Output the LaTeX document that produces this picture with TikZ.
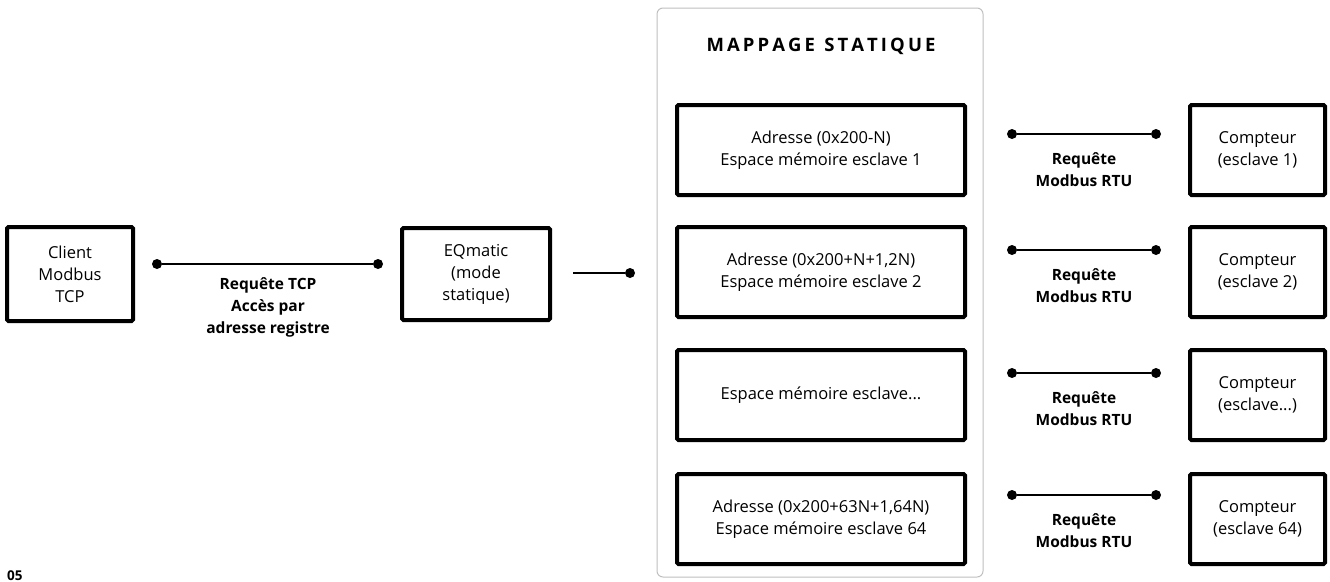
\documentclass[tikz,border=0pt]{standalone}
\usepackage{fontspec}
\setmainfont{Open Sans}
\begin{document}
\begin{tikzpicture}[x=1pt,y=-1pt,
  box/.style={draw=black,line width=4pt,fill=white,rounded corners=1.5pt,align=center,inner sep=0pt,
    font=\fontsize{16.5}{22}\selectfont},
  lbl/.style={align=center,font=\fontsize{15.5}{22}\selectfont\bfseries},
  conn/.style={line width=1.3pt},
  dot/.style={circle,fill=black,inner sep=0pt,minimum size=10pt}]
\useasboundingbox (0,0) rectangle (1330,581);
\draw[draw=black!25,line width=1pt,rounded corners=6pt] (657,8) rectangle (983,577);
\node[font=\fontsize{18.5}{20}\selectfont\bfseries] (title) at (821,46) {M\,A\,P\,P\,A\,G\,E\,\,\,S\,T\,A\,T\,I\,Q\,U\,E};
% left part
\node[box,minimum width=126pt,minimum height=94pt] (client) at (70,274) {Client\\Modbus\\TCP};
\node[box,minimum width=148pt,minimum height=92pt] (eq) at (476,274) {EQmatic\\(mode\\statique)};
\node[dot] (d1) at (157,264) {};
\node[dot] (d2) at (378,264) {};
\draw[conn] (d1) -- (d2);
\node[lbl] (tcp) at (268,307) {Requête TCP\\Accès par\\adresse registre};
\coordinate (e0) at (573,273);
\node[dot] (d3) at (630,273) {};
\draw[conn] (e0) -- (d3);
% rows
\foreach \i/\y/\ya/\ta/\tb in {1/150/134/{Adresse (0x200-N)\\Espace mémoire esclave 1}/{Compteur\\(esclave 1)},
  2/272/250/{Adresse (0x200+N+1,2N)\\Espace mémoire esclave 2}/{Compteur\\(esclave 2)},
  3/395/373/{Espace mémoire esclave...}/{Compteur\\(esclave...)},
  4/519/495/{Adresse (0x200+63N+1,64N)\\Espace mémoire esclave 64}/{Compteur\\(esclave 64)}}{
  \node[box,minimum width=288pt,minimum height=90pt] (m\i) at (821,\y) {\ta};
  \node[box,minimum width=135pt,minimum height=90pt] (c\i) at (1257.5,\y) {\tb};
  \node[dot] (l\i) at (1012,\ya) {};
  \node[dot] (r\i) at (1156,\ya) {};
  \draw[conn] (l\i) -- (r\i);
  \node[lbl] (t\i) at (1084,\ya+36) {Requête\\Modbus RTU};
}
\node[anchor=south west,font=\fontsize{13.5}{14}\selectfont\bfseries,inner sep=0pt] (num) at (7,580.5) {05};
\end{tikzpicture}
\end{document}
